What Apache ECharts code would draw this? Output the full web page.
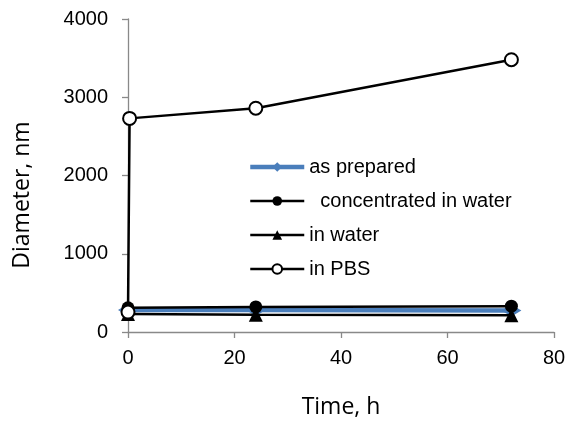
<!DOCTYPE html>
<html>
<head>
<meta charset="utf-8">
<script src="https://cdn.jsdelivr.net/npm/echarts@6/dist/echarts.min.js"></script>
<style>
  html, body { margin: 0; padding: 0; background: #fff; }
  #chart { width: 566px; height: 422px; }
</style>
</head>
<body>
<div id="chart"></div>
<script>
// values (Time in h, Diameter in nm)
const seriesNames = ['as prepared', '  concentrated in water', 'in water', 'in PBS'];
const asPrepared = [[0, 280], [24, 280], [72, 275]];
const concentratedInWater = [[0, 310], [24, 320], [72, 330]];
const inWater = [[0, 230], [24, 220], [72, 215]];
const inPBS = [[0, 255], [0.3, 2730], [24, 2860], [72, 3480]];

const chart = echarts.init(document.getElementById('chart'));

const FONT = '"Liberation Sans", Arial, sans-serif';
const TITLE_FONT = '"Open Sans", sans-serif';
const BLUE = '#4a7ebb';

const option = {
  animation: false,
  backgroundColor: '#fff',
  textStyle: { fontFamily: FONT, color: '#000' },
  grid: { left: 128, right: 12, top: 19, bottom: 90, outerBoundsMode: 'none', containLabel: false },
  legend: {
    orient: 'vertical',
    left: 248,
    top: 157,
    padding: 0,
    itemWidth: 54,
    itemHeight: 12,
    itemGap: 14,
    data: [
      { name: seriesNames[0], lineStyle: { width: 4.5, color: BLUE } },
      { name: seriesNames[1], lineStyle: { width: 2.5, color: '#000' } },
      { name: seriesNames[2], lineStyle: { width: 2.5, color: '#000' } },
      { name: seriesNames[3], lineStyle: { width: 2.5, color: '#000' } },
    ],
    textStyle: { fontFamily: FONT, fontSize: 20, color: '#000', lineHeight: 20 },
  },
  xAxis: {
    type: 'value',
    min: 0,
    max: 80,
    interval: 20,
    name: 'Time, h',
    nameLocation: 'middle',
    nameGap: 64,
    nameTextStyle: { fontFamily: TITLE_FONT, fontSize: 23, color: '#000' },
    axisLine: { lineStyle: { color: '#898989', width: 1.3 } },
    axisTick: { length: 6, lineStyle: { color: '#898989', width: 1.3 } },
    axisLabel: { fontSize: 20, color: '#000', margin: 16 },
    splitLine: { show: false },
  },
  yAxis: {
    type: 'value',
    min: 0,
    max: 4000,
    interval: 1000,
    axisLine: { show: true, lineStyle: { color: '#898989', width: 1.3 } },
    axisTick: { show: true, length: 6, lineStyle: { color: '#898989', width: 1.3 } },
    axisLabel: { fontSize: 20, color: '#000', margin: 20, formatter: (v) => String(v) },
    splitLine: { show: false },
  },
  graphic: [
    {
      type: 'text',
      x: 22,
      y: 195,
      rotation: Math.PI / 2,
      style: {
        text: 'Diameter, nm',
        fontFamily: TITLE_FONT,
        fontSize: 23,
        fill: '#000',
        align: 'center',
        verticalAlign: 'middle',
      },
    },
  ],
  series: [
    {
      name: seriesNames[0],
      type: 'line',
      data: asPrepared,
      symbol: 'diamond',
      symbolSize: [20, 12],
      lineStyle: { color: BLUE, width: 4.5 },
      itemStyle: { color: BLUE },
      z: 2,
    },
    {
      name: seriesNames[1],
      type: 'line',
      data: concentratedInWater,
      symbol: 'circle',
      symbolSize: 13,
      lineStyle: { color: '#000', width: 2.5 },
      itemStyle: { color: '#000' },
      z: 3,
    },
    {
      name: seriesNames[2],
      type: 'line',
      data: inWater,
      symbol: 'triangle',
      symbolSize: 14,
      lineStyle: { color: '#000', width: 2.5 },
      itemStyle: { color: '#000' },
      z: 3,
    },
    {
      name: seriesNames[3],
      type: 'line',
      data: inPBS,
      symbol: 'circle',
      symbolSize: 13,
      lineStyle: { color: '#000', width: 2.5 },
      itemStyle: { color: '#fff', borderColor: '#000', borderWidth: 2 },
      z: 4,
    },
  ],
};

chart.setOption(option);
</script>
</body>
</html>
